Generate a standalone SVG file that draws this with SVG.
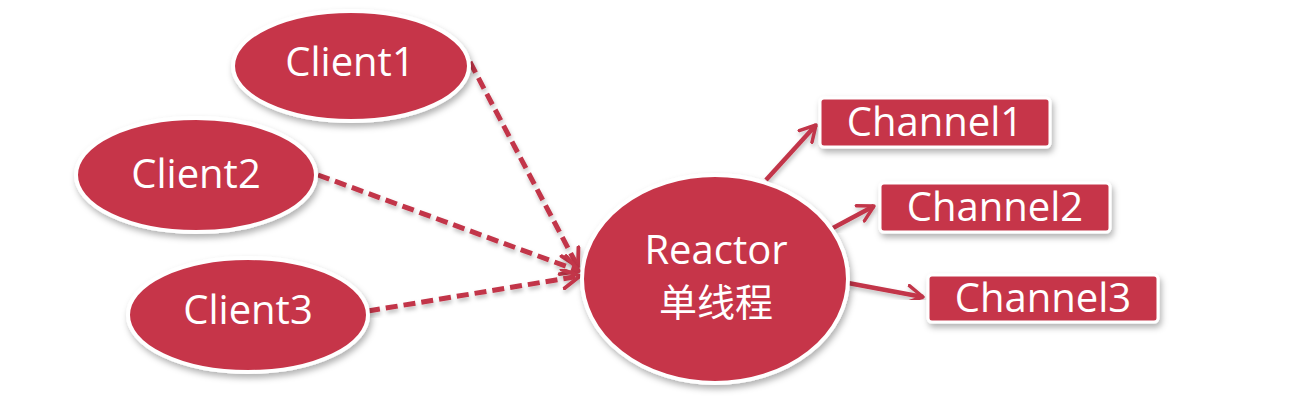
<svg xmlns="http://www.w3.org/2000/svg" width="1296" height="400" viewBox="0 0 1296 400">
<defs>
<filter id="sh" x="-20%" y="-20%" width="140%" height="150%">
<feDropShadow dx="2" dy="4" stdDeviation="3" flood-color="#000" flood-opacity="0.3"/>
</filter>
<filter id="lsh" x="-20%" y="-20%" width="140%" height="140%">
<feDropShadow dx="1" dy="3" stdDeviation="2" flood-color="#000" flood-opacity="0.25"/>
</filter>
<marker id="ah" viewBox="0 0 12 12" refX="10" refY="6" markerWidth="4.6" markerHeight="4.6" orient="auto" markerUnits="strokeWidth">
<path d="M1,1 L10,6 L1,11" fill="none" stroke="#C23548" stroke-width="2" stroke-linecap="round" stroke-linejoin="round"/>
</marker>
</defs>
<style>
.node{fill:#C6364A;stroke:#fff;stroke-width:4;filter:url(#sh)}
.box{fill:#C6364A;stroke:#fff;stroke-width:3;filter:url(#sh)}
.t{font-family:"Open Sans","Noto Sans","Noto Sans CJK SC",sans-serif;fill:#fff;text-anchor:middle}
.dash{fill:none;stroke:#C23548;stroke-width:5;stroke-dasharray:12 6;marker-end:url(#ah);filter:url(#lsh)}
.solid{fill:none;stroke:#C23548;stroke-width:4.5;marker-end:url(#ah);filter:url(#lsh)}
</style>
<rect width="1296" height="400" fill="#fff"/>
<g id="connectors">
<line class="dash" x1="470" y1="62" x2="578" y2="267"/>
<line class="dash" x1="318" y1="175" x2="579" y2="271"/>
<line class="dash" x1="368" y1="311" x2="580" y2="276"/>
<line class="solid" x1="766" y1="180" x2="816" y2="125"/>
<line class="solid" x1="833" y1="228" x2="874" y2="206"/>
<line class="solid" x1="848" y1="283" x2="923" y2="297"/>
</g>
<g id="client1">
<ellipse class="node" cx="351" cy="66" rx="118" ry="55"/>
<text class="t" x="350" y="76" font-size="40">Client1</text>
</g>
<g id="client2">
<ellipse class="node" cx="196" cy="175" rx="120" ry="57"/>
<text class="t" x="196" y="188" font-size="40">Client2</text>
</g>
<g id="client3">
<ellipse class="node" cx="248" cy="315" rx="120" ry="57"/>
<text class="t" x="248" y="324" font-size="40">Client3</text>
</g>
<g id="reactor">
<ellipse class="node" cx="715" cy="279" rx="133" ry="104"/>
<text class="t" x="716" y="264" font-size="40">Reactor</text>
<text class="t" x="716" y="316" font-size="38">单线程</text>
</g>
<g id="channel1">
<rect class="box" x="820" y="98" width="230" height="49" rx="4"/>
<text class="t" x="935" y="136" font-size="40">Channel1</text>
</g>
<g id="channel2">
<rect class="box" x="880" y="183" width="230" height="49" rx="4"/>
<text class="t" x="995" y="221" font-size="40">Channel2</text>
</g>
<g id="channel3">
<rect class="box" x="928" y="275" width="230" height="47" rx="4"/>
<text class="t" x="1043" y="312" font-size="40">Channel3</text>
</g>
</svg>
